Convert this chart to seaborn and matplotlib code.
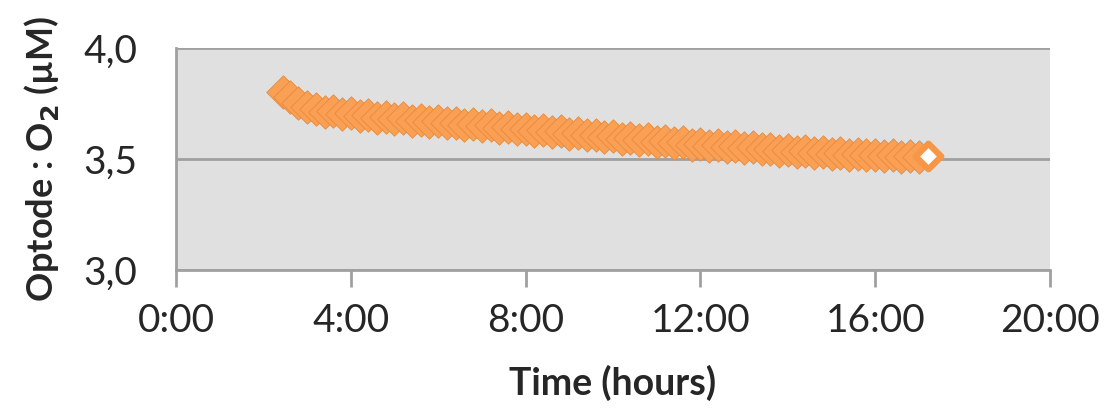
import matplotlib
matplotlib.use('Agg')
import matplotlib.pyplot as plt
import seaborn as sns
import pandas as pd

# optode readings, time in hours since start
time_h = [2.45, 2.6, 2.8, 3.0, 3.2, 3.4, 3.6, 3.8, 4.0, 4.2, 4.4, 4.6, 4.8, 5.0,
          5.2, 5.4, 5.6, 5.8, 6.0, 6.2, 6.4, 6.6, 6.8, 7.0, 7.2, 7.4, 7.6, 7.8,
          8.0, 8.2, 8.4, 8.6, 8.8, 9.0, 9.2, 9.4, 9.6, 9.8, 10.0, 10.2, 10.4,
          10.6, 10.8, 11.0, 11.2, 11.4, 11.6, 11.8, 12.0, 12.2, 12.4, 12.6,
          12.8, 13.0, 13.2, 13.4, 13.6, 13.8, 14.0, 14.2, 14.4, 14.6, 14.8,
          15.0, 15.2, 15.4, 15.6, 15.8, 16.0, 16.2, 16.4, 16.6, 16.8, 17.0, 17.2]
o2_uM = [3.800, 3.780, 3.752, 3.733, 3.724, 3.712, 3.716, 3.703, 3.706, 3.694,
         3.698, 3.686, 3.690, 3.679, 3.684, 3.672, 3.677, 3.668, 3.671, 3.660,
         3.664, 3.655, 3.658, 3.648, 3.652, 3.641, 3.645, 3.634, 3.637, 3.626,
         3.630, 3.621, 3.625, 3.613, 3.617, 3.606, 3.610, 3.598, 3.602, 3.592,
         3.596, 3.585, 3.589, 3.578, 3.582, 3.571, 3.575, 3.564, 3.567, 3.559,
         3.563, 3.553, 3.557, 3.548, 3.552, 3.543, 3.547, 3.538, 3.542, 3.533,
         3.537, 3.529, 3.533, 3.524, 3.528, 3.520, 3.524, 3.516, 3.519, 3.512,
         3.516, 3.509, 3.514, 3.510, 3.513]

xticks = [0, 4, 8, 12, 16, 20]
xtick_labels = ['0:00', '4:00', '8:00', '12:00', '16:00', '20:00']
yticks = [3.0, 3.5, 4.0]
ytick_labels = ['3,0', '3,5', '4,0']

df = pd.DataFrame({'time': time_h, 'o2': o2_uM})

sns.set_style("white")
plt.rcParams['font.family'] = ['Lato', 'DejaVu Sans']

fig = plt.figure(figsize=(11.18, 4.08), dpi=100)
ax = fig.add_axes([0.1574, 0.3382, 0.7818, 0.5442])
ax.set_facecolor('#e0e0e0')

orange = '#f79646'
sns.scatterplot(data=df.iloc[:-1], x='time', y='o2', marker='D', s=290,
                color='#f9a055', edgecolor='#e88a3c', linewidth=0.6, ax=ax, zorder=3)
# last point: white diamond, orange border
sns.scatterplot(data=df.iloc[-1:], x='time', y='o2', marker='D', s=170,
                color='white', edgecolor=orange, linewidth=4.5, ax=ax, zorder=4)

ax.set_xlim(0, 20)
ax.set_ylim(3.0, 4.0)
ax.set_xticks(xticks)
ax.set_xticklabels(xtick_labels, fontsize=28)
ax.set_yticks(yticks)
ax.set_yticklabels(ytick_labels, fontsize=28)

ax.yaxis.grid(True, color='#a0a0a0', linewidth=2)
ax.set_axisbelow(True)
for side in ['top', 'right']:
    ax.spines[side].set_visible(False)
for side in ['left', 'bottom']:
    ax.spines[side].set_color('#a0a0a0')
    ax.spines[side].set_linewidth(2)
ax.tick_params(axis='x', length=12, width=2, color='#a0a0a0', pad=12, direction='out', bottom=True)
ax.tick_params(axis='y', length=0, pad=28)

ax.set_xlabel('Time (hours)', fontsize=27, fontweight='bold', labelpad=18)
ax.set_ylabel('Optode : O$_\\mathbf{2}$ (µM)', fontsize=26, fontweight='bold', labelpad=16)

fig.savefig('out.png', dpi=100)
